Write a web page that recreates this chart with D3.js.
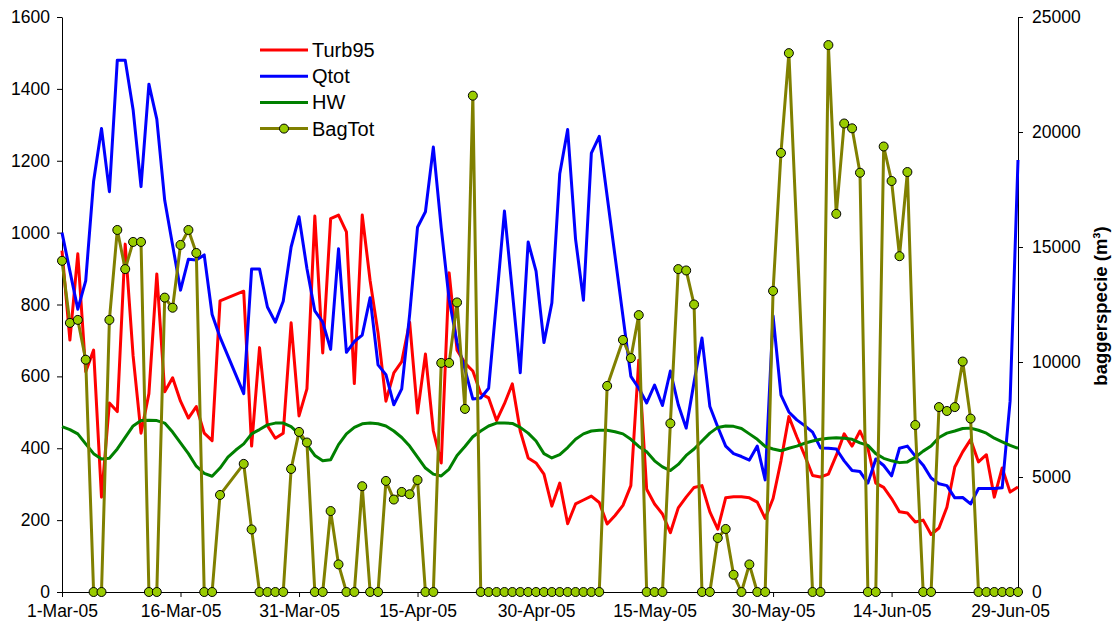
<!DOCTYPE html>
<html>
<head>
<meta charset="utf-8">
<script src="https://cdn.jsdelivr.net/npm/d3@7"></script>
<style>
    body { margin: 0; background: #fff; }
    svg { display: block; font-family: "Liberation Sans", Arial, sans-serif; }
</style>
</head>
<body>
<svg id="chart" width="1116" height="630"></svg>
<script>
// ---------------------------------------------------------------
// Data: one value per day from 1-Mar-05 to 30-Jun-05 (null = missing)
// ---------------------------------------------------------------
const startDate = new Date(2005, 2, 1);
const endDate = new Date(2005, 5, 30);
const days = d3.timeDay.range(startDate, d3.timeDay.offset(endDate, 1));

const turb95 = [
    950, 701, 941, 613, 673, 264, 526, 502, 968, 657,
    442, 552, 885, 557, 596, 531, 484, 516, 442, 421,
    810, null, null, 837, 406, 680, 463, 428, 442, 749,
    490, 565, 1046, 665, 1039, 1049, 1002, 580, 1049, 866,
    721, 531, 610, 641, 751, 498, 662, 448, 359, 888,
    673, 637, 615, 552, 540, 477, 524, 579, 448, 373,
    359, 328, 239, 303, 190, 245, 256, 267, 249, 189,
    213, 241, 296, 645, 286, 245, 217, 165, 234, 264,
    291, 296, 223, 175, 262, 265, 265, 262, 250, 205,
    260, 365, 488, 432, 380, 324, 320, 328, 380, 440,
    406, 448, 400, 303, 291, 260, 223, 220, 195, 200,
    160, 178, 236, 348, 390, 424, 362, 382, 264, 345,
    278, 292
];

const qtot = [
    1000, 893, 787, 866, 1143, 1290, 1114, 1480, 1480, 1342,
    1128, 1413, 1316, 1090, 965, 840, 926, 924, 938, 772,
    709, null, null, 552, 899, 899, 793, 751, 809, 960,
    1044, 900, 782, 751, 675, 955, 667, 697, 715, 819,
    632, 605, 521, 565, 772, 1015, 1058, 1238, 1013, 814,
    694, 620, 537, 540, 567, 810, 1060, 835, 610, 974,
    893, 694, 804, 1164, 1287, 982, 812, 1221, 1268, null,
    null, null, 600, 567, 526, 576, 519, 615, 521, 456,
    584, 707, 516, 459, 406, 385, 377, 367, 406, 312,
    768, 548, 501, 479, 463, 445, 401, 400, 398, 365,
    338, 335, 303, 370, 352, 323, 400, 406, 378, 353,
    317, 301, 296, 262, 263, 245, 288, 288, 288, 290,
    531, 1202
];

const hw = [
    460, 452, 440, 412, 385, 370, 372, 398, 430, 462,
    477, 478, 477, 470, 445, 415, 385, 350, 330, 322,
    345, 375, 395, 412, 440, 452, 465, 470, 470, 460,
    440, 410, 380, 365, 368, 410, 440, 458, 468, 470,
    468, 462, 448, 430, 406, 375, 345, 328, 323, 342,
    380, 405, 432, 448, 462, 470, 470, 469, 458, 442,
    420, 385, 373, 382, 402, 425, 440, 448, 450, 450,
    446, 440, 425, 405, 390, 365, 348, 338, 355, 380,
    398, 420, 442, 458, 462, 461, 455, 440, 425, 405,
    398, 393, 400, 406, 414, 420, 425, 428, 429, 428,
    425, 415, 408, 385, 372, 365, 360, 362, 375, 392,
    406, 430, 442, 448, 455, 456, 450, 442, 428, 418,
    408, 400
];

const bagTot = [
    14400, 11700, 11830, 10100, 0, 0, 11830, 15740, 14040, 15220,
    15220, 0, 0, 12800, 12360, 15090, 15740, 14740, 0, 0,
    4220, null, null, 5570, 2720, 0, 0, 0, 0, 5350,
    6960, 6500, 0, 0, 3520, 1200, 0, 0, 4600, 0,
    0, 4830, 4020, 4350, 4250, 4870, 0, 0, 9960, 9960,
    12590, 7960, 21580, 0, 0, 0, 0, 0, 0, 0,
    0, 0, 0, 0, 0, 0, 0, 0, 0, 8960,
    null, 10960, 10170, 12040, 0, 0, 0, 7330, 14040, 13980,
    12500, 0, 0, 2350, 2740, 750, 0, 1200, 0, 0,
    13090, 19090, 23430, null, null, 0, 0, 23780, 16440, 20370,
    20160, 18230, 0, 0, 19370, 17870, 14600, 18260, 7260, 0,
    0, 8040, 7870, 8040, 10020, 7540, 0, 0, 0, 0,
    0, 0
];

const leftTicks = [0, 200, 400, 600, 800, 1000, 1200, 1400, 1600];
const rightTicks = [0, 5000, 10000, 15000, 20000, 25000];
const dateTicks = ["2005-03-01", "2005-03-16", "2005-03-31", "2005-04-15", "2005-04-30",
    "2005-05-15", "2005-05-30", "2005-06-14", "2005-06-29"];

const seriesInfo = [
    { name: "Turb95", values: turb95, color: "#ff0000", axis: "left" },
    { name: "Qtot", values: qtot, color: "#0000ff", axis: "left" },
    { name: "HW", values: hw, color: "#008000", axis: "left" },
    { name: "BagTot", values: bagTot, color: "#808000", axis: "right", marker: "#99cc00" }
];

// ---------------------------------------------------------------
// Layout and scales
// ---------------------------------------------------------------
const plot = { left: 62, right: 1018, top: 17, bottom: 592 };
const svg = d3.select("#chart");

const x = d3.scaleTime()
    .domain([startDate, endDate])
    .range([plot.left, plot.right]);
const yLeft = d3.scaleLinear()
    .domain([0, 1600])
    .range([plot.bottom, plot.top]);
const yRight = d3.scaleLinear()
    .domain([0, 25000])
    .range([plot.bottom, plot.top]);

// ---------------------------------------------------------------
// Axes
// ---------------------------------------------------------------
const parseDay = d3.timeParse("%Y-%m-%d");
const fmtDay = d3.timeFormat("%-d-%b-%y");
const fmtNum = d3.format("d");

function styleAxis(g) {
    g.selectAll("path.domain").attr("stroke", "#000").attr("stroke-width", 1);
    g.selectAll(".tick line").attr("stroke", "#000");
    g.selectAll("text")
        .attr("fill", "#000")
        .style("font-size", "17.5px")
        .style("font-family", "'Liberation Sans', Arial, sans-serif");
}

svg.append("g")
    .attr("transform", `translate(${plot.left},0)`)
    .call(d3.axisLeft(yLeft).tickValues(leftTicks).tickFormat(fmtNum)
        .tickSize(5).tickSizeOuter(0).tickPadding(7))
    .call(styleAxis);

svg.append("g")
    .attr("transform", `translate(${plot.right},0)`)
    .call(d3.axisRight(yRight).tickValues(rightTicks).tickFormat(fmtNum)
        .tickSize(5).tickSizeOuter(0).tickPadding(9))
    .call(styleAxis);

svg.append("g")
    .attr("transform", `translate(0,${plot.bottom})`)
    .call(d3.axisBottom(x)
        .tickValues(dateTicks.map(parseDay))
        .tickFormat(fmtDay)
        .tickSize(5)
        .tickSizeOuter(0)
        .tickPadding(8))
    .call(styleAxis);

// Right axis title
svg.append("text")
    .attr("transform", `translate(1100,306) rotate(-90)`)
    .attr("text-anchor", "middle")
    .attr("dominant-baseline", "central")
    .style("font-size", "18.5px")
    .style("font-weight", "bold")
    .text("baggerspecie (m³)");

// ---------------------------------------------------------------
// Series
// ---------------------------------------------------------------
seriesInfo.forEach(s => {
    const yScale = s.axis === "left" ? yLeft : yRight;
    // Missing days are skipped, and the line joins the neighbours (as in the original).
    const points = s.values
        .map((v, i) => ({ date: days[i], value: v }))
        .filter(p => p.value !== null);

    const line = d3.line()
        .x(p => x(p.date))
        .y(p => yScale(p.value));

    svg.append("path")
        .datum(points)
        .attr("d", line)
        .attr("fill", "none")
        .attr("stroke", s.color)
        .attr("stroke-width", 3)
        .attr("stroke-linejoin", "round");

    if (s.marker) {
        svg.append("g")
            .selectAll("circle")
            .data(points)
            .join("circle")
                .attr("cx", p => x(p.date))
                .attr("cy", p => yScale(p.value))
                .attr("r", 4.5)
                .attr("fill", s.marker)
                .attr("stroke", "#000")
                .attr("stroke-width", 1);
    }
});

// ---------------------------------------------------------------
// Legend
// ---------------------------------------------------------------
const legend = svg.append("g").attr("transform", "translate(260,50)");
const legendRow = 26.2;

const rows = legend.selectAll("g")
    .data(seriesInfo)
    .join("g")
        .attr("transform", (d, i) => `translate(0,${i * legendRow})`);

rows.append("line")
    .attr("x1", 0)
    .attr("x2", 48)
    .attr("stroke", d => d.color)
    .attr("stroke-width", 3);

rows.filter(d => d.marker)
    .append("circle")
        .attr("cx", 24)
        .attr("r", 4.5)
        .attr("fill", d => d.marker)
        .attr("stroke", "#000");

rows.append("text")
    .attr("x", 52)
    .attr("dominant-baseline", "central")
    .style("font-size", "20px")
    .text(d => d.name);
</script>
</body>
</html>
